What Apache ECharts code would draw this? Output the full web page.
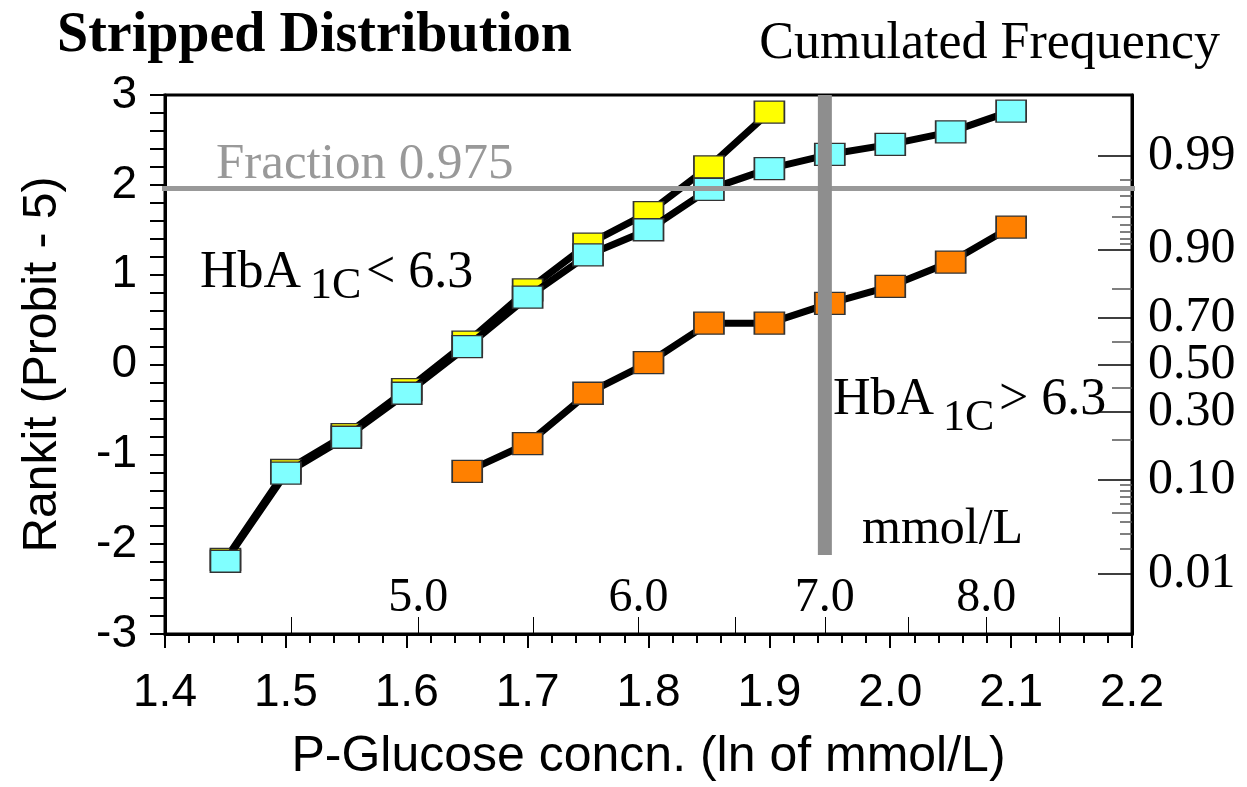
<!DOCTYPE html>
<html>
<head>
<meta charset="utf-8">
<script src="https://cdn.jsdelivr.net/npm/echarts@6/dist/echarts.min.js"></script>
<style>
  html, body { margin: 0; padding: 0; background: #fff; }
  #chart { width: 1247px; height: 787px; }
</style>
</head>
<body>
<div id="chart"></div>
<script>
// ln(glucose) positions of the points
var xLow = [1.45, 1.50, 1.55, 1.60, 1.65, 1.70, 1.75, 1.80, 1.85, 1.90, 1.95, 2.00, 2.05, 2.10];
var xHigh = [1.65, 1.70, 1.75, 1.80, 1.85, 1.90, 1.95, 2.00, 2.05, 2.10];

// rankit values
var cyanY = [-2.19, -1.21, -0.81, -0.32, 0.20, 0.75, 1.22, 1.50, 1.95, 2.18, 2.34, 2.45, 2.59, 2.82];
var yellowY = [-2.17, -1.18, -0.78, -0.28, 0.25, 0.83, 1.34, 1.69, 2.20, 2.81];
var orangeY = [-1.19, -0.88, -0.32, 0.02, 0.46, 0.46, 0.68, 0.87, 1.14, 1.53];

// secondary scales
var mmolTicks = [4.5, 5.0, 5.5, 6.0, 6.5, 7.0, 7.5, 8.0, 8.5];
var mmolLabels = [5.0, 6.0, 7.0, 8.0];
var freqMajor = [0.01, 0.10, 0.30, 0.50, 0.70, 0.90, 0.99];
var freqMid = [0.05, 0.20, 0.40, 0.60, 0.80, 0.95];
var freqMinor = [0.02, 0.03, 0.04, 0.06, 0.07, 0.08, 0.09, 0.91, 0.92, 0.93, 0.94, 0.96, 0.97, 0.98];

var fraction = 0.975;
var cutMmol = 7.0;
var cutBottom = -2.12;

// inverse normal cdf (Acklam)
function probit(p) {
    var a = [-3.969683028665376e+01, 2.209460984245205e+02, -2.759285104469687e+02, 1.383577518672690e+02, -3.066479806614716e+01, 2.506628277459239e+00];
    var b = [-5.447609879822406e+01, 1.615858368580409e+02, -1.556989798598866e+02, 6.680131188771972e+01, -1.328068155288572e+01];
    var c = [-7.784894002430293e-03, -3.223964580411365e-01, -2.400758277161838e+00, -2.549732539343734e+00, 4.374664141464968e+00, 2.938163982698783e+00];
    var d = [7.784695709041462e-03, 3.224671290700398e-01, 2.445134137142996e+00, 3.754408661907416e+00];
    var pl = 0.02425, q, r;
    if (p < pl) {
        q = Math.sqrt(-2 * Math.log(p));
        return (((((c[0] * q + c[1]) * q + c[2]) * q + c[3]) * q + c[4]) * q + c[5]) / ((((d[0] * q + d[1]) * q + d[2]) * q + d[3]) * q + 1);
    }
    if (p > 1 - pl) {
        q = Math.sqrt(-2 * Math.log(1 - p));
        return -(((((c[0] * q + c[1]) * q + c[2]) * q + c[3]) * q + c[4]) * q + c[5]) / ((((d[0] * q + d[1]) * q + d[2]) * q + d[3]) * q + 1);
    }
    q = p - 0.5;
    r = q * q;
    return (((((a[0] * r + a[1]) * r + a[2]) * r + a[3]) * r + a[4]) * r + a[5]) * q / (((((b[0] * r + b[1]) * r + b[2]) * r + b[3]) * r + b[4]) * r + 1);
}

function pairs(xs, ys) {
    var out = [];
    for (var i = 0; i < ys.length; i++) out.push([xs[i], ys[i]]);
    return out;
}

var majorPos = freqMajor.map(probit);
var serif = '"Liberation Serif", "Times New Roman", serif';
var sans = '"Liberation Sans", Arial, sans-serif';

var chart = echarts.init(document.getElementById('chart'));

function markerSeries(name, data, color, z) {
    return {
        name: name,
        type: 'line',
        data: data,
        z: z,
        symbol: 'rect',
        symbolSize: [30, 22],
        lineStyle: { color: '#000', width: 7 },
        itemStyle: { color: color, borderColor: '#333', borderWidth: 1.5 }
    };
}

var rightBase = {
    type: 'value', position: 'right', min: -3, max: 3,
    splitLine: { show: false }, axisLine: { show: false }, axisLabel: { show: false }
};

var option = {
    animation: false,
    backgroundColor: '#fff',
    grid: {
        left: 165, right: 115, top: 95, bottom: 152,
        show: true, borderColor: '#000', borderWidth: 3
    },
    xAxis: [
        {
            type: 'value', min: 1.4, max: 2.2, interval: 0.1,
            name: 'P-Glucose concn. (ln of mmol/L)',
            nameLocation: 'middle', nameGap: 98,
            nameTextStyle: { fontFamily: sans, fontSize: 50, color: '#000' },
            axisLine: { onZero: false, lineStyle: { color: '#000', width: 3 } },
            axisTick: { length: 14, lineStyle: { color: '#000', width: 2 } },
            minorTick: { show: true, splitNumber: 5, length: 9, lineStyle: { color: '#000', width: 2 } },
            splitLine: { show: false },
            axisLabel: {
                margin: 36, fontFamily: sans, fontSize: 46, color: '#000',
                formatter: function (v) { return v.toFixed(1); }
            }
        },
        {
            type: 'value', min: 1.4, max: 2.2, position: 'bottom',
            axisLine: { show: false, onZero: false },
            splitLine: { show: false },
            axisTick: {
                inside: true, length: 17,
                customValues: mmolTicks.map(Math.log),
                lineStyle: { color: '#000', width: 1 }
            },
            axisLabel: {
                inside: true, margin: 12,
                customValues: mmolLabels.map(Math.log),
                fontFamily: serif, fontSize: 48, color: '#000',
                formatter: function (v) { return Math.exp(v).toFixed(1); }
            }
        }
    ],
    yAxis: [
        {
            type: 'value', min: -3, max: 3, interval: 1,
            name: 'Rankit (Probit - 5)',
            nameLocation: 'middle', nameGap: 98,
            nameTextStyle: { fontFamily: sans, fontSize: 48, color: '#000' },
            axisLine: { onZero: false, lineStyle: { color: '#000', width: 3 } },
            axisTick: { length: 15, lineStyle: { color: '#000', width: 2 } },
            minorTick: { show: true, splitNumber: 5, length: 15, lineStyle: { color: '#000', width: 2 } },
            splitLine: { show: false },
            axisLabel: { margin: 28, fontFamily: sans, fontSize: 46, color: '#000' }
        },
        {
            type: 'value', position: 'right', min: -3, max: 3,
            splitLine: { show: false },
            axisLine: { show: true, onZero: false, lineStyle: { color: '#000', width: 3 } },
            axisTick: {
                inside: true, length: 34,
                customValues: majorPos,
                lineStyle: { color: '#000', width: 1.5 }
            },
            axisLabel: {
                margin: 16, customValues: majorPos,
                fontFamily: serif, fontSize: 50, color: '#000',
                formatter: function (v) {
                    for (var i = 0; i < majorPos.length; i++) {
                        if (Math.abs(majorPos[i] - v) < 1e-6) return freqMajor[i].toFixed(2);
                    }
                    return '';
                }
            }
        },
        Object.assign({}, rightBase, {
            axisTick: { inside: true, length: 20, customValues: freqMid.map(probit), lineStyle: { color: '#555', width: 1.5 } }
        }),
        Object.assign({}, rightBase, {
            axisTick: { inside: true, length: 12, customValues: freqMinor.map(probit), lineStyle: { color: '#555', width: 1.5 } }
        })
    ],
    series: [
        markerSeries('yellow', pairs(xLow, yellowY), '#ffff00', 2),
        markerSeries('cyan', pairs(xLow, cyanY), '#80ffff', 3),
        markerSeries('orange', pairs(xHigh, orangeY), '#ff8000', 3),
        {
            name: 'fraction', type: 'line', z: 5, symbol: 'none', clip: false,
            data: [[1.396, probit(fraction)], [2.203, probit(fraction)]],
            lineStyle: { color: '#999', width: 5 }
        },
        {
            name: 'cut', type: 'line', z: 5, symbol: 'none',
            data: [[Math.log(cutMmol), 3], [Math.log(cutMmol), cutBottom]],
            lineStyle: { color: '#8e8e8e', width: 14, cap: 'butt' }
        }
    ],
    graphic: [
        { type: 'text', x: 57, y: 37, style: { text: 'Stripped Distribution', fontFamily: serif, fontWeight: 'bold', fontSize: 56, fill: '#000', verticalAlign: 'middle' } },
        { type: 'text', x: 1220, y: 44, style: { text: 'Cumulated Frequency', fontFamily: serif, fontSize: 52, fill: '#000', align: 'right', verticalAlign: 'middle' } },
        { type: 'text', x: 216, y: 165, z: 10, style: { text: 'Fraction 0.975', fontFamily: serif, fontSize: 51, fill: '#999', verticalAlign: 'middle' } },
        { type: 'text', x: 200, y: 273, style: { text: 'HbA', fontFamily: serif, fontSize: 52, fill: '#000', verticalAlign: 'middle' } },
        { type: 'text', x: 310, y: 286, style: { text: '1C', fontFamily: serif, fontSize: 44, fill: '#000', verticalAlign: 'middle' } },
        { type: 'text', x: 366, y: 273, style: { text: '< 6.3', fontFamily: serif, fontSize: 52, fill: '#000', verticalAlign: 'middle' } },
        { type: 'text', x: 833, y: 400, z: 10, style: { text: 'HbA', fontFamily: serif, fontSize: 52, fill: '#000', verticalAlign: 'middle' } },
        { type: 'text', x: 943, y: 418, z: 10, style: { text: '1C', fontFamily: serif, fontSize: 44, fill: '#000', verticalAlign: 'middle' } },
        { type: 'text', x: 999, y: 400, z: 10, style: { text: '> 6.3', fontFamily: serif, fontSize: 52, fill: '#000', verticalAlign: 'middle' } },
        { type: 'text', x: 862, y: 530, style: { text: 'mmol/L', fontFamily: serif, fontSize: 50, fill: '#000', verticalAlign: 'middle' } }
    ]
};

chart.setOption(option);
</script>
</body>
</html>
